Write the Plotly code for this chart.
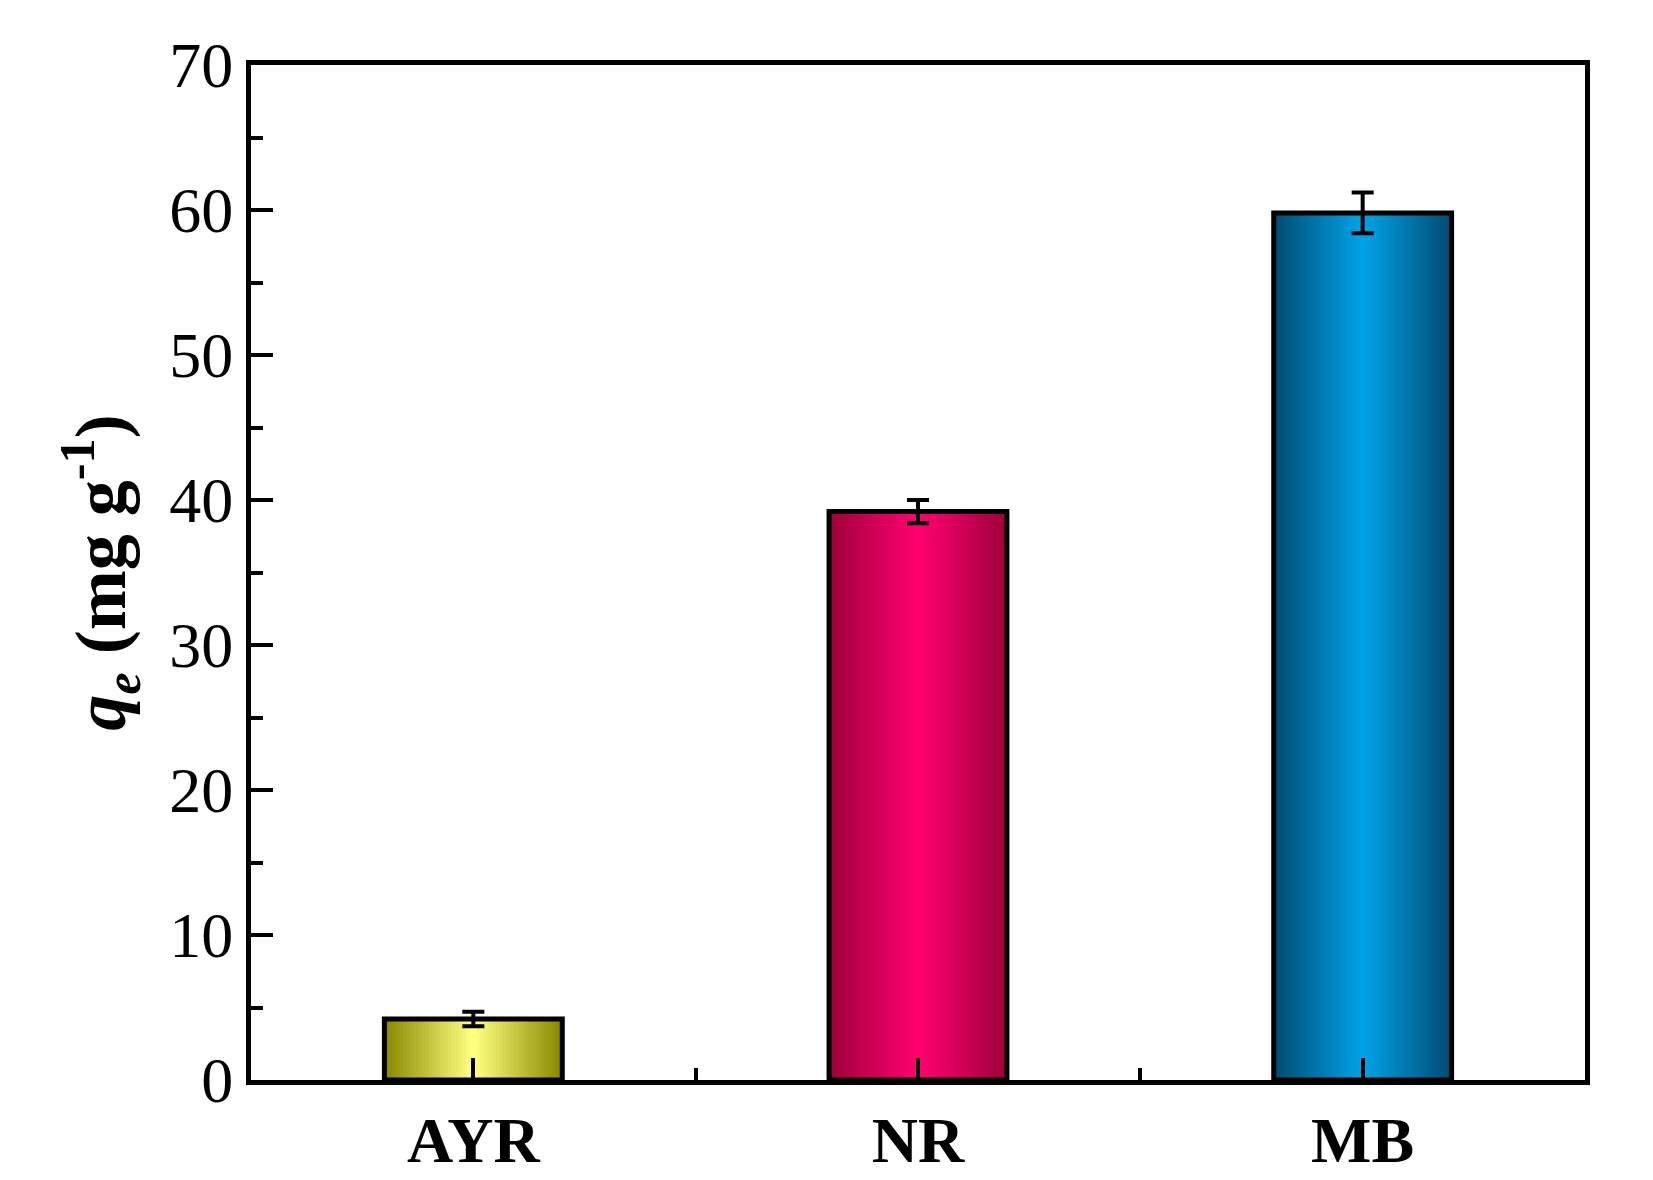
import plotly.graph_objects as go

categories = ["AYR", "NR", "MB"]
values = [4.2, 39.2, 59.8]
errors = [0.5, 0.8, 1.4]
edge_colors = [(138, 138, 0), (160, 0, 60), (0, 78, 116)]
center_colors = [(255, 255, 128), (255, 0, 112), (0, 162, 230)]

x = list(range(len(categories)))
fig = go.Figure()
N = 24
W = 0.4
for i in range(N):
    t = i / (N - 1)
    w = W * (1 - i / N)
    cols = []
    for e, c in zip(edge_colors, center_colors):
        cols.append("rgb(%d,%d,%d)" % tuple(int(e[k] + (c[k] - e[k]) * t) for k in range(3)))
    fig.add_trace(go.Bar(x=x, y=values, width=w, marker=dict(color=cols, line=dict(width=0)),
                         showlegend=False, hoverinfo="skip"))
fig.add_trace(go.Bar(x=x, y=values, width=W, marker=dict(color="rgba(0,0,0,0)", line=dict(color="black", width=5)),
                     showlegend=False))
fig.add_trace(go.Scatter(x=x, y=values, mode="markers", marker=dict(size=1, color="rgba(0,0,0,0)"),
                         error_y=dict(type="data", array=errors, color="black", thickness=4, width=11),
                         showlegend=False))

font = "Liberation Serif, Times New Roman, serif"
fig.update_layout(
    width=1653, height=1180, barmode="overlay",
    margin=dict(l=243, r=76, t=57, b=100),
    plot_bgcolor="white", paper_bgcolor="white",
    font=dict(family=font, color="black", size=50),
)
fig.update_xaxes(range=[-0.5, 2.5], tickmode="array", tickvals=x,
                 ticktext=["<b>%s</b>" % c for c in categories],
                 ticks="inside", ticklen=22, tickwidth=4, tickcolor="black",
                 minor=dict(tickvals=[0.5, 1.5], ticks="inside", ticklen=12, tickwidth=4, tickcolor="black"),
                 showline=True, linewidth=5, linecolor="black", mirror=True, showgrid=False,
                 tickfont=dict(size=64), layer="above traces")
fig.update_yaxes(range=[0, 70], dtick=10, ticks="inside", ticklen=22, tickwidth=4, tickcolor="black",
                 minor=dict(dtick=5, ticks="inside", ticklen=12, tickwidth=4, tickcolor="black"),
                 showline=True, linewidth=5, linecolor="black", mirror=True, showgrid=False, zeroline=False,
                 tickfont=dict(size=64), layer="above traces",
                 title=dict(text="<b><i>q<sub>e</sub></i> (mg g<sup>-1</sup>)</b>", font=dict(size=72), standoff=22))
fig.write_html("out.html")
